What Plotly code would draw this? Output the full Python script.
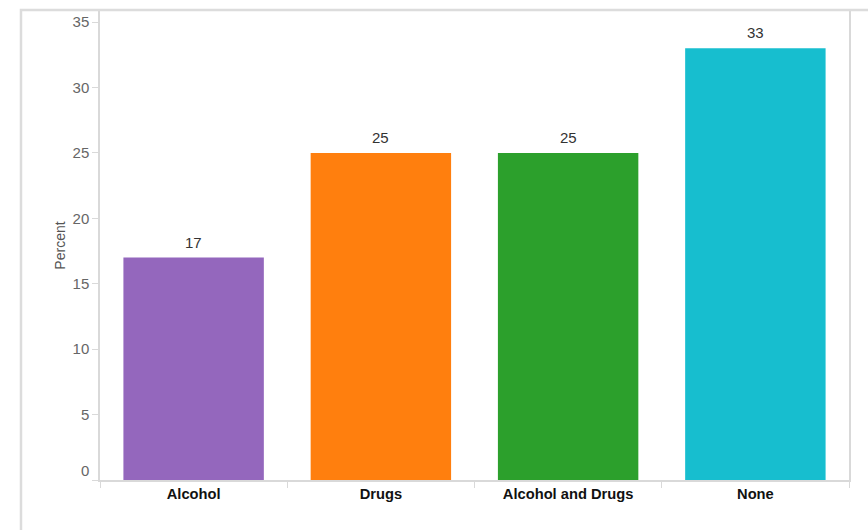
import plotly.graph_objects as go

# Share of respondents by substance category
categories = ["Alcohol", "Drugs", "Alcohol and Drugs", "None"]
percent = [17, 25, 25, 33]
bar_colors = ["#9467bd", "#ff7f0e", "#2ca02c", "#17becf"]
y_ticks = [0, 5, 10, 15, 20, 25, 30, 35]

FONT = "Liberation Sans, Arial, sans-serif"
GRID_GRAY = "#d9d9d9"

fig = go.Figure(
    go.Bar(
        x=categories,
        y=percent,
        marker=dict(color=bar_colors, line=dict(width=0)),
        hoverinfo="x+y",
    )
)

# Value labels above each bar
for cat, val in zip(categories, percent):
    fig.add_annotation(
        x=cat, y=val, text=str(val), showarrow=False,
        yanchor="bottom", yshift=5,
        font=dict(family=FONT, size=15, color="#333333"),
    )

# The zero label sits a little above the baseline
fig.add_annotation(
    xref="paper", x=0, y=0, text="0", showarrow=False,
    xanchor="right", xshift=-9, yshift=10,
    font=dict(family=FONT, size=15, color="#666666"),
)

# Light frame around the view
fig.add_shape(
    type="rect", xref="paper", yref="paper",
    x0=-0.1055, x1=1.2, y0=-0.3, y1=1.002,
    line=dict(color="#dcdcdc", width=2.5), fillcolor="rgba(0,0,0,0)",
    layer="above",
)

fig.update_layout(
    width=868, height=530,
    margin=dict(l=100, r=19, t=9, b=50),
    paper_bgcolor="white", plot_bgcolor="white",
    bargap=0.25,
    showlegend=False,
    font=dict(family=FONT),
    xaxis=dict(
        type="category",
        showline=True, linecolor=GRID_GRAY, linewidth=1.5, mirror=True,
        ticks="outside", tickson="boundaries", ticklen=6, tickcolor=GRID_GRAY,
        tickfont=dict(family=FONT, size=14.7, color="#111111", weight="bold"),
        showgrid=False,
    ),
    yaxis=dict(
        range=[0, 35.85],
        tickvals=y_ticks,
        ticktext=["" if v == 0 else str(v) for v in y_ticks],
        showline=True, linecolor=GRID_GRAY, linewidth=1.5, mirror=True,
        ticks="outside", ticklen=6, tickcolor=GRID_GRAY,
        tickfont=dict(family=FONT, size=15, color="#666666"),
        showgrid=False, zeroline=False,
        title=dict(text="Percent", font=dict(family=FONT, size=14, color="#555555"), standoff=4),
    ),
)

fig.write_html("out.html")
